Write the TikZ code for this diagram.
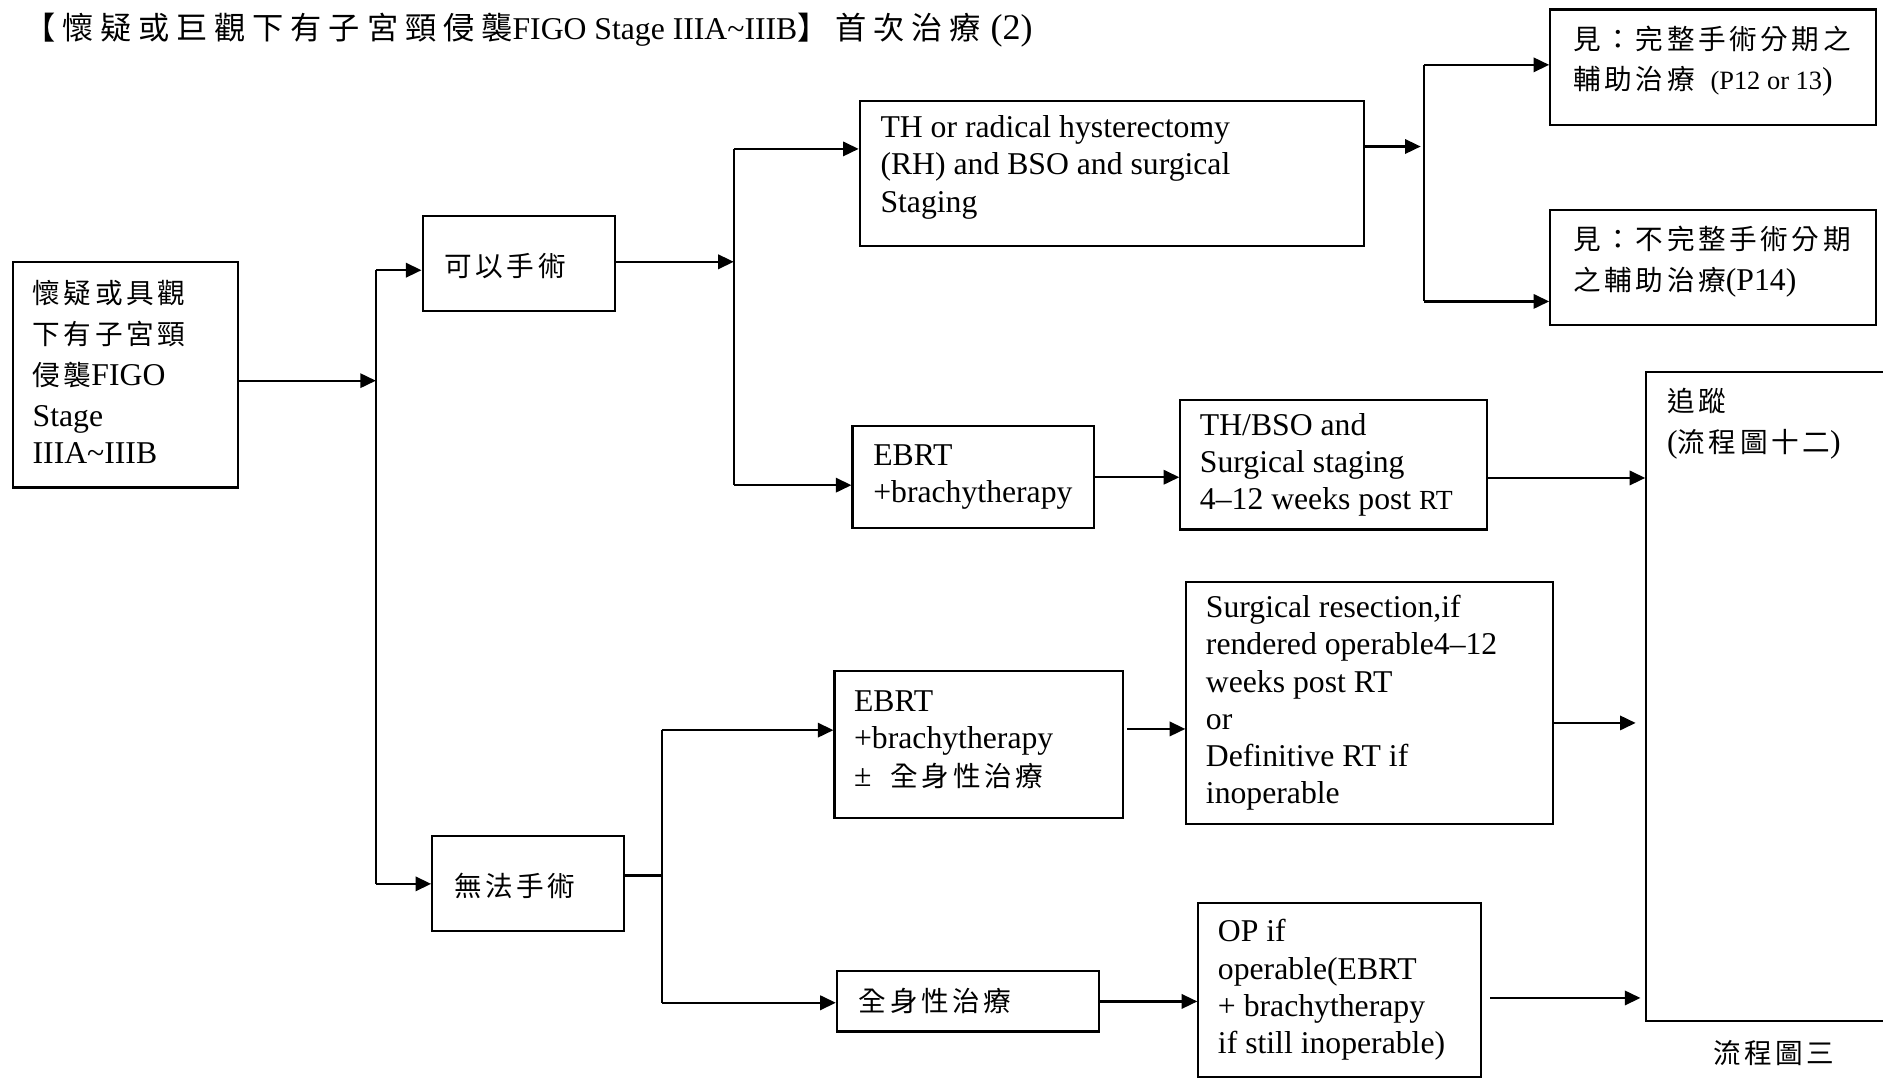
\documentclass[tikz,border=0pt]{standalone}
\usepackage{fontspec}
\setmainfont{Liberation Serif}
\newfontfamily\cjkbody[LetterSpace=13]{Noto Sans CJK TC}
\newfontfamily\cjkhead[LetterSpace=22]{Noto Sans CJK TC}
\usetikzlibrary{arrows.meta}

% Chinese runs inside Latin text
\newcommand\zhtxt[1]{{\cjkbody\fontsize{23}{34}\selectfont #1}}
\newcommand\zhhead[1]{{\cjkhead\fontsize{26}{34}\selectfont #1}}

\tikzset{
  box/.style={draw, line width=1.8pt, inner sep=0pt, anchor=north west},
  txt/.style={anchor=west, align=left, inner sep=0pt, font=\fontsize{26.4}{31}\selectfont},
  zhlines/.style={font=\fontsize{26.4}{34}\selectfont},
  ln/.style={line width=1.8pt},
  arr/.style={line width=1.8pt, -{Triangle[length=13pt,width=12pt]}},
}

\begin{document}
\begin{tikzpicture}[x=1pt, y=-1pt]
\path[use as bounding box, fill=white] (0,0) rectangle (1568,897);

% title
\node[txt] (title) at (20,25) {\zhhead{【懷疑或巨觀下有子宮頸侵襲}FIGO Stage IIIA\textasciitilde IIIB\zhhead{】首次治療}\hspace{8pt}{\fontsize{30}{34}\selectfont(2)}};

% boxes
\node[box, minimum width=187pt, minimum height=188pt] (start)  at (10,217)  {};
\node[box, minimum width=160pt, minimum height=79pt]  (can)    at (351,179)  {};
\node[box, minimum width=160pt, minimum height=79pt]  (cannot) at (359,695)  {};
\node[box, minimum width=420pt, minimum height=121pt] (th)     at (715,83)   {};
\node[box, minimum width=271pt, minimum height=96pt]  (see1)   at (1290,7)   {};
\node[box, minimum width=271pt, minimum height=96pt]  (see2)   at (1290,174) {};
\node[box, minimum width=201pt, minimum height=85pt]  (ebrt1)  at (709,354)  {};
\node[box, minimum width=255pt, minimum height=108pt] (thbso)  at (982,332)  {};
\node[box, minimum width=230pt, minimum height=540pt] (fu)     at (1370,309) {};
\node[box, minimum width=240pt, minimum height=122pt] (ebrt2)  at (694,558)  {};
\node[box, minimum width=305pt, minimum height=201pt] (surg)   at (987,484)  {};
\node[box, minimum width=218pt, minimum height=50pt]  (sys)    at (696,808)  {};
\node[box, minimum width=235pt, minimum height=145pt] (op)     at (997,751)  {};

% box texts
\node[txt, font=\fontsize{26.4}{34}\selectfont] (t-start) at ([xshift=17pt,yshift=2pt]start.west) {\zhtxt{懷疑或具觀}\\\zhtxt{下有子宮頸}\\\zhtxt{侵襲}FIGO\\Stage\\[-3pt]IIIA\textasciitilde IIIB};
\node[txt] (t-can) at ([xshift=19pt,yshift=-2pt]can.west) {\zhtxt{可以手術}};
\node[txt] (t-cannot) at ([xshift=19pt,yshift=-2pt]cannot.west) {\zhtxt{無法手術}};
\node[txt] (t-th) at ([xshift=18pt,yshift=5pt]th.west) {TH or radical hysterectomy\\(RH) and BSO and surgical\\Staging};
\node[txt, zhlines] (t-see1) at ([xshift=20pt,yshift=5pt]see1.west) {\zhtxt{見：完整手術分期之}\\\zhtxt{輔助治療}\ \ {\fontsize{22}{34}\selectfont(P12 or 13})};
\node[txt, zhlines] (t-see2) at ([xshift=20pt,yshift=5pt]see2.west) {\zhtxt{見：不完整手術分期}\\\zhtxt{之輔助治療}(P14)};
\node[txt] (t-ebrt1) at ([xshift=18pt]ebrt1.west) {EBRT\\+brachytherapy};
\node[txt] (t-thbso) at ([xshift=17pt]thbso.west) {TH/BSO and\\Surgical staging\\4–12 weeks post {\fontsize{23}{31}\selectfont RT}};
\node[txt, zhlines, anchor=north west] (t-fu) at ([xshift=18pt,yshift=-14pt]fu.north west) {\zhtxt{追蹤}\\(\zhtxt{流程圖十二})};
\node[txt] (t-ebrt2) at ([xshift=17pt,yshift=4pt]ebrt2.west) {EBRT\\+brachytherapy\\±\hspace{16pt}\zhtxt{全身性治療}};
\node[txt] (t-surg) at ([xshift=17pt]surg.west) {Surgical resection,if\\rendered operable4–12\\weeks post RT\\or\\Definitive RT if\\inoperable};
\node[txt] (t-sys) at ([xshift=19pt]sys.west) {\zhtxt{全身性治療}};
\node[txt] (t-op) at ([xshift=17pt]op.west) {OP if\\operable(EBRT\\+ brachytherapy\\if still inoperable)};
\node[txt, anchor=center] (flow3) at (1477,877) {\zhtxt{流程圖三}};

% branch points
\coordinate (j1t) at (313,225);  \coordinate (j1b) at (313,736);  \coordinate (j1m) at (313,317);
\coordinate (j2t) at (611,124);  \coordinate (j2b) at (611,404);  \coordinate (j2m) at (611,218);
\coordinate (j3t) at (1186,54);  \coordinate (j3b) at (1186,251); \coordinate (j3m) at (1186,122);
\coordinate (j4t) at (551,608);  \coordinate (j4b) at (551,835);  \coordinate (j4m) at (551,729);
\coordinate (r1) at (0,398); \coordinate (r2) at (0,607); \coordinate (r3) at (0,602); \coordinate (r4) at (0,831);

% connectors
\draw[arr] (start.east |- j1m) -- (j1m);
\draw[ln]  (j1t) -- (j1b);
\draw[arr] (j1t) -- (can.west |- j1t);
\draw[arr] (j1b) -- (cannot.west |- j1b);

\draw[arr] (can.east |- j2m) -- (j2m);
\draw[ln]  (j2t) -- (j2b);
\draw[arr] (j2t) -- (th.west |- j2t);
\draw[arr] (j2b) -- (ebrt1.west |- j2b);

\draw[arr, shorten >=3pt] (th.east |- j3m) -- (j3m);
\draw[ln]  (j3t) -- (j3b);
\draw[arr] (j3t) -- (see1.west |- j3t);
\draw[arr] (j3b) -- (see2.west |- j3b);

\draw[arr] (ebrt1.east) -- (ebrt1.east -| thbso.west);
\draw[arr] (thbso.east |- r1) -- (fu.west |- r1);

\draw[ln]  (cannot.east |- j4m) -- (j4m);
\draw[ln]  (j4t) -- (j4b);
\draw[arr] (j4t) -- (ebrt2.west |- j4t);
\draw[arr] (j4b) -- (sys.west |- j4b);

\draw[arr] ([xshift=3pt]ebrt2.east |- r2) -- (surg.west |- r2);
\draw[arr, shorten >=8pt] (surg.east |- r3) -- (fu.west |- r3);
\draw[arr] (sys.east) -- (sys.east -| op.west);
\draw[arr, shorten >=4pt] ([xshift=7pt]op.east |- r4) -- (fu.west |- r4);
\end{tikzpicture}
\end{document}
